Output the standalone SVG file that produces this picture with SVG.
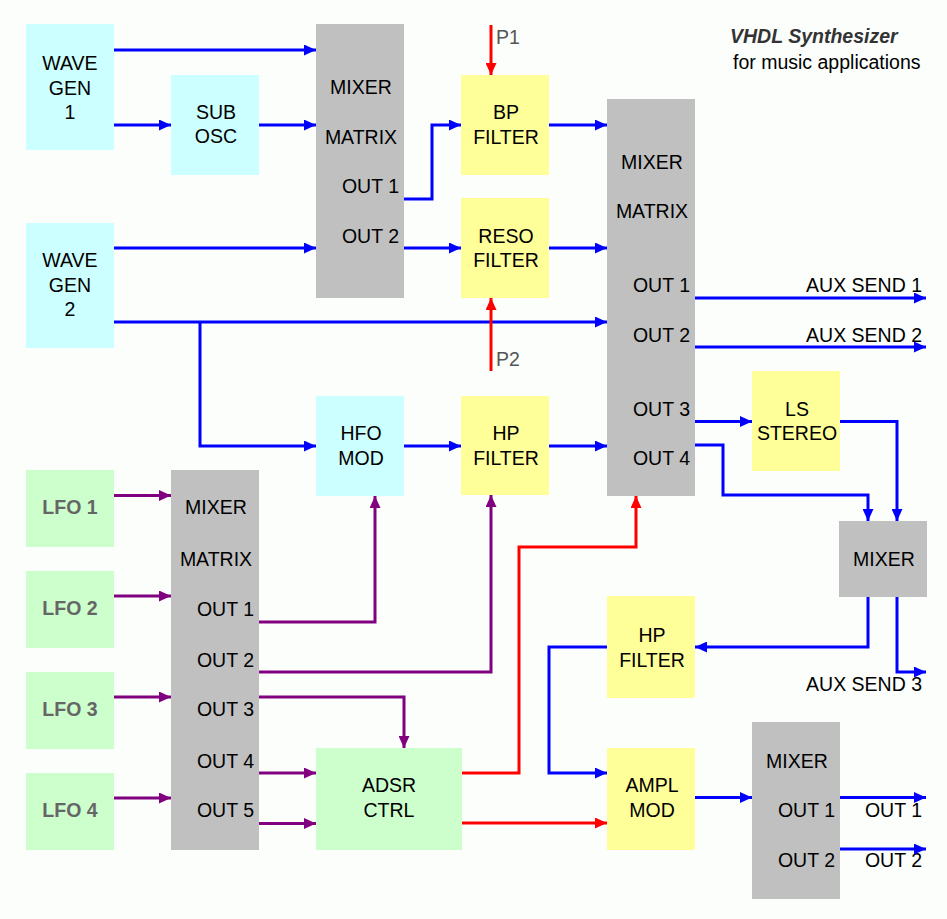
<svg xmlns="http://www.w3.org/2000/svg" width="947" height="919" viewBox="0 0 947 919">
<style>
text{font-family:"Liberation Sans",Arial,sans-serif;font-size:19.5px;fill:#000}
.c{text-anchor:middle}
.e{text-anchor:end}
.lfo{font-weight:bold;fill:#666}
.p{fill:#555}
.cy{fill:#CCFFFF}
.ye{fill:#FFFF99}
.gr{fill:#CCFFCC}
.gy{fill:#C0C0C0}
.b{fill:none;stroke:#0000FF;stroke-width:3}
.r{fill:none;stroke:#FF0000;stroke-width:3}
.v{fill:none;stroke:#800080;stroke-width:3}
</style>
<defs>
<marker id="ab" markerUnits="userSpaceOnUse" markerWidth="12" markerHeight="11" refX="12" refY="5.5" orient="auto"><path d="M0,0L12,5.5L0,11z" fill="#0000FF"/></marker>
<marker id="ar" markerUnits="userSpaceOnUse" markerWidth="12" markerHeight="11" refX="12" refY="5.5" orient="auto"><path d="M0,0L12,5.5L0,11z" fill="#FF0000"/></marker>
<marker id="av" markerUnits="userSpaceOnUse" markerWidth="12" markerHeight="11" refX="12" refY="5.5" orient="auto"><path d="M0,0L12,5.5L0,11z" fill="#800080"/></marker>
</defs>
<rect width="947" height="919" fill="#FCFEFC"/>
<g id="title">
<text x="730" y="43" style="font-weight:bold;font-style:italic;fill:#333">VHDL Synthesizer</text>
<text x="733" y="69">for music applications</text>
</g>
<g id="wavegen1"><rect class="cy" x="26" y="24" width="88" height="126"/><text class="c" x="70" y="70">WAVE</text><text class="c" x="70" y="94.5">GEN</text><text class="c" x="70" y="119">1</text></g>
<g id="wavegen2"><rect class="cy" x="26" y="223" width="88" height="125"/><text class="c" x="70" y="267">WAVE</text><text class="c" x="70" y="292">GEN</text><text class="c" x="70" y="316">2</text></g>
<g id="subosc"><rect class="cy" x="171" y="75" width="88" height="100"/><text class="c" x="216" y="119">SUB</text><text class="c" x="216" y="143">OSC</text></g>
<g id="mixer1"><rect class="gy" x="316" y="24" width="88" height="274"/><text class="c" x="361" y="94">MIXER</text><text class="c" x="361" y="144">MATRIX</text><text class="e" x="399" y="193">OUT 1</text><text class="e" x="399" y="243">OUT 2</text></g>
<g id="bpfilter"><rect class="ye" x="461" y="75" width="88" height="100"/><text class="c" x="506" y="119">BP</text><text class="c" x="506" y="144">FILTER</text></g>
<g id="resofilter"><rect class="ye" x="461" y="198" width="88" height="100"/><text class="c" x="506" y="243">RESO</text><text class="c" x="506" y="267">FILTER</text></g>
<g id="mixer2"><rect class="gy" x="607" y="99" width="88" height="397"/><text class="c" x="652" y="169">MIXER</text><text class="c" x="652" y="218">MATRIX</text><text class="e" x="690" y="292">OUT 1</text><text class="e" x="690" y="342">OUT 2</text><text class="e" x="690" y="415.5">OUT 3</text><text class="e" x="690" y="464.5">OUT 4</text></g>
<g id="hfomod"><rect class="cy" x="316" y="396" width="88" height="100"/><text class="c" x="361" y="440">HFO</text><text class="c" x="361" y="465">MOD</text></g>
<g id="hpfilter1"><rect class="ye" x="461" y="396" width="88" height="99"/><text class="c" x="506" y="440">HP</text><text class="c" x="506" y="464.5">FILTER</text></g>
<g id="lsstereo"><rect class="ye" x="752" y="371" width="88" height="100"/><text class="c" x="797" y="415.5">LS</text><text class="c" x="797" y="440">STEREO</text></g>
<g id="mixer4"><rect class="gy" x="839" y="521" width="88" height="76"/><text class="c" x="884" y="566">MIXER</text></g>
<g id="lfo1"><rect class="gr" x="26" y="470" width="88" height="77"/><text class="c lfo" x="70" y="514">LFO 1</text></g>
<g id="lfo2"><rect class="gr" x="26" y="571" width="88" height="77"/><text class="c lfo" x="70" y="615">LFO 2</text></g>
<g id="lfo3"><rect class="gr" x="26" y="672" width="88" height="77"/><text class="c lfo" x="70" y="716">LFO 3</text></g>
<g id="lfo4"><rect class="gr" x="26" y="773" width="88" height="77"/><text class="c lfo" x="70" y="817">LFO 4</text></g>
<g id="mixer3"><rect class="gy" x="171" y="470" width="88" height="380"/><text class="c" x="216" y="514">MIXER</text><text class="c" x="216" y="566">MATRIX</text><text class="e" x="254" y="615.5">OUT 1</text><text class="e" x="254" y="667">OUT 2</text><text class="e" x="254" y="716">OUT 3</text><text class="e" x="254" y="768">OUT 4</text><text class="e" x="254" y="817">OUT 5</text></g>
<g id="adsr"><rect class="gr" x="316" y="748" width="146" height="102"/><text class="c" x="389" y="792">ADSR</text><text class="c" x="389" y="817">CTRL</text></g>
<g id="hpfilter2"><rect class="ye" x="607" y="596" width="88" height="102"/><text class="c" x="652" y="641.5">HP</text><text class="c" x="652" y="667">FILTER</text></g>
<g id="amplmod"><rect class="ye" x="607" y="748" width="88" height="102"/><text class="c" x="652" y="792">AMPL</text><text class="c" x="652" y="817">MOD</text></g>
<g id="mixer5"><rect class="gy" x="752" y="722" width="88" height="177"/><text class="c" x="797" y="768">MIXER</text><text class="e" x="835" y="817">OUT 1</text><text class="e" x="835" y="867">OUT 2</text></g>
<g id="labels">
<text class="p" x="496" y="44">P1</text>
<text class="p" x="496" y="366">P2</text>
<text class="e" x="922" y="292">AUX SEND 1</text>
<text class="e" x="922" y="342">AUX SEND 2</text>
<text class="e" x="922" y="691">AUX SEND 3</text>
<text class="e" x="922" y="817">OUT 1</text>
<text class="e" x="922" y="867">OUT 2</text>
</g>
<g id="connectors">
<path class="b" marker-end="url(#ab)" d="M114,50H316"/>
<path class="b" marker-end="url(#ab)" d="M114,125H171"/>
<path class="b" marker-end="url(#ab)" d="M259,125H316"/>
<path class="b" marker-end="url(#ab)" d="M404,199H432V125H461"/>
<path class="b" marker-end="url(#ab)" d="M404,248H461"/>
<path class="b" marker-end="url(#ab)" d="M114,248H316"/>
<path class="b" marker-end="url(#ab)" d="M114,322H607"/>
<path class="b" marker-end="url(#ab)" d="M200,322V446H316"/>
<path class="b" marker-end="url(#ab)" d="M549,125H607"/>
<path class="b" marker-end="url(#ab)" d="M549,248H607"/>
<path class="b" marker-end="url(#ab)" d="M404,446H461"/>
<path class="b" marker-end="url(#ab)" d="M549,446H607"/>
<path class="b" marker-end="url(#ab)" d="M695,298H926"/>
<path class="b" marker-end="url(#ab)" d="M695,347H926"/>
<path class="b" marker-end="url(#ab)" d="M695,421.5H752"/>
<path class="b" marker-end="url(#ab)" d="M695,445H723V495H868V521"/>
<path class="b" marker-end="url(#ab)" d="M840,421.5H897V521"/>
<path class="b" marker-end="url(#ab)" d="M868,597V647H695"/>
<path class="b" marker-end="url(#ab)" d="M897,597V672H926"/>
<path class="b" marker-end="url(#ab)" d="M607,647H549V773H607"/>
<path class="b" marker-end="url(#ab)" d="M695,797.5H752"/>
<path class="b" marker-end="url(#ab)" d="M840,797.5H926"/>
<path class="b" marker-end="url(#ab)" d="M840,849H926"/>
<path class="r" marker-end="url(#ar)" d="M491,25V75"/>
<path class="r" marker-end="url(#ar)" d="M491,371V298"/>
<path class="r" marker-end="url(#ar)" d="M462,773H519V547H636V496"/>
<path class="r" marker-end="url(#ar)" d="M462,823H607"/>
<path class="v" marker-end="url(#av)" d="M114,495.5H171"/>
<path class="v" marker-end="url(#av)" d="M114,596H171"/>
<path class="v" marker-end="url(#av)" d="M114,697H171"/>
<path class="v" marker-end="url(#av)" d="M114,798H171"/>
<path class="v" marker-end="url(#av)" d="M259,622H375V496"/>
<path class="v" marker-end="url(#av)" d="M259,672H491V495"/>
<path class="v" marker-end="url(#av)" d="M259,697H404V748"/>
<path class="v" marker-end="url(#av)" d="M259,773H316"/>
<path class="v" marker-end="url(#av)" d="M259,823.5H316"/>
</g>
</svg>
